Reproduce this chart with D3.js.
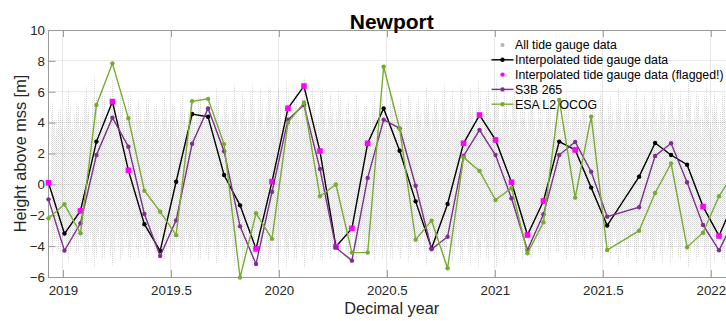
<!DOCTYPE html>
<html><head><meta charset="utf-8">
<script src="https://cdn.jsdelivr.net/npm/d3@7"></script>
<style>
html,body{margin:0;padding:0;background:#fff;}
svg{display:block;font-family:"Liberation Sans",Arial,Helvetica,sans-serif;}
</style></head><body>
<svg id="chart" width="726" height="321"></svg>
<script>
// ---- data ----
const passYears = [2018.933, 2019.007, 2019.081, 2019.155, 2019.229, 2019.303, 2019.377, 2019.450, 2019.524, 2019.598,
  2019.672, 2019.746, 2019.820, 2019.894, 2019.968, 2020.042, 2020.116, 2020.190, 2020.264, 2020.338,
  2020.411, 2020.485, 2020.559, 2020.633, 2020.707, 2020.781, 2020.855, 2020.929, 2021.003, 2021.077,
  2021.151, 2021.225, 2021.298, 2021.372, 2021.446, 2021.520, 2021.594, 2021.668, 2021.742, 2021.816,
  2021.890, 2021.964, 2022.038, 2022.112];
const gaugeInterp = [0.10, -3.19, -1.72, 2.77, 5.36, 0.91, -2.58, -4.31, 0.17, 4.56,
  4.38, 0.61, -1.36, -4.18, 0.18, 4.93, 6.37, 2.16, -4.03, -2.85,
  2.66, 4.92, 2.18, -1.10, -4.14, -1.27, 2.66, 4.49, 2.88, 0.14,
  -3.28, -1.08, 2.77, 2.23, -0.21, -2.67, null, 0.50, 2.68, 1.90,
  1.27, -1.44, -3.34, -0.95];
const gaugeFlagged = [1,0,1,0,1,1,0,0,0,0, 0,0,0,1,1,1,1,1,1,1, 1,0,0,0,0,0,1,1,1,1, 1,1,0,1,0,0,0,0,0,0, 0,1,1,0];
const s3b265 = [-0.97, -4.29, -2.52, 1.90, 4.32, 2.44, -1.92, -4.64, -2.33, 2.63,
  4.92, 2.15, -2.72, -5.16, -0.48, 4.19, 5.14, 1.00, -4.10, -4.94,
  0.42, 4.19, 3.63, -0.09, -4.20, -3.39, 1.84, 3.52, 1.90, -0.90,
  -4.25, -1.94, 1.90, 2.75, 0.82, -2.09, null, -1.48, 1.84, 2.66,
  0.14, -2.63, -4.27, -2.20];
const esaOcog = [-2.20, -1.29, -3.17, 5.14, 7.84, 4.28, -0.41, -1.77, -3.29, 5.38,
  5.54, 2.61, -6.03, -1.87, -3.53, 4.00, 5.30, -0.77, -0.01, -4.42,
  -4.42, 7.62, 3.59, -3.58, -2.35, -5.43, 1.75, 0.87, -1.01, -0.23,
  -4.46, -2.45, 5.47, -0.86, 4.39, -4.25, null, -3.00, -0.56, 1.35,
  -4.07, -3.13, -0.77, 0.87];

// envelope of the hourly tide-gauge record (spring tides), read approximately
const springYears = [2018.945, 2018.985, 2019.026, 2019.066, 2019.107, 2019.147, 2019.187, 2019.228, 2019.268, 2019.309,
  2019.349, 2019.390, 2019.430, 2019.471, 2019.511, 2019.551, 2019.592, 2019.632, 2019.673, 2019.713,
  2019.754, 2019.794, 2019.834, 2019.875, 2019.915, 2019.956, 2019.996, 2020.037, 2020.077, 2020.118,
  2020.158, 2020.198, 2020.239, 2020.279, 2020.320, 2020.360, 2020.401, 2020.441, 2020.481, 2020.522,
  2020.562, 2020.603, 2020.643, 2020.684, 2020.724, 2020.765, 2020.805, 2020.845, 2020.886, 2020.926,
  2020.967, 2021.007, 2021.048, 2021.088, 2021.128, 2021.169, 2021.209, 2021.250, 2021.290, 2021.331,
  2021.371, 2021.412, 2021.452, 2021.492, 2021.533, 2021.573, 2021.614, 2021.654, 2021.695, 2021.735,
  2021.775, 2021.816, 2021.856, 2021.897, 2021.937, 2021.978, 2022.018, 2022.059, 2022.099];
const springHigh = [6.0, 5.2, 6.2, 5.6, 6.6, 7.2, 6.4, 7.0, 6.0, 6.3,
  5.6, 6.0, 5.4, 5.9, 5.5, 6.1, 5.6, 6.3, 5.8, 6.4,
  6.0, 6.6, 6.2, 6.8, 6.3, 6.9, 6.4, 7.0, 6.6, 7.1,
  6.5, 6.8, 6.0, 6.4, 5.6, 6.0, 5.5, 6.1, 5.8, 6.3,
  5.7, 6.2, 5.9, 6.5, 6.0, 6.7, 6.2, 6.9, 6.4, 7.0,
  6.5, 6.9, 6.3, 6.6, 5.9, 6.2, 5.6, 6.0, 5.5, 6.1,
  5.6, 6.2, 5.8, 6.3, 5.9, 6.4, 6.0, 6.5, 6.1, 6.7,
  6.3, 6.8, 6.4, 6.9, 6.4, 6.8, 6.2, 6.5, 6.0];
const springLow = [-5.0, -4.6, -5.1, -4.8, -5.3, -5.5, -5.2, -5.4, -5.0, -5.2,
  -4.8, -5.0, -4.7, -5.0, -4.8, -5.1, -4.9, -5.2, -5.0, -5.3,
  -5.1, -5.4, -5.2, -5.5, -5.2, -5.5, -5.2, -5.5, -5.3, -5.5,
  -5.1, -5.3, -4.9, -5.1, -4.7, -5.0, -4.8, -5.1, -4.9, -5.2,
  -4.9, -5.2, -5.0, -5.3, -5.1, -5.4, -5.2, -5.5, -5.3, -5.5,
  -5.3, -5.5, -5.2, -5.3, -5.0, -5.1, -4.8, -5.0, -4.7, -5.0,
  -4.8, -5.1, -4.9, -5.2, -5.0, -5.3, -5.1, -5.3, -5.1, -5.4,
  -5.2, -5.4, -5.2, -5.5, -5.2, -5.4, -5.1, -5.3, -5.0];
const neapHigh = 3.8, neapLow = -3.4;

const xTicks = [2019, 2019.5, 2020, 2020.5, 2021, 2021.5, 2022];
const xTickLabels = ["2019", "2019.5", "2020", "2020.5", "2021", "2021.5", "2022"];
const yTicks = [-6, -4, -2, 0, 2, 4, 6, 8, 10];
const legendLabels = ["All tide gauge data", "Interpolated tide gauge data",
  "Interpolated tide gauge data (flagged!)", "S3B 265", "ESA L2 OCOG"];

// ---- drawing ----
const svg = d3.select("#chart");
const L = 48.5, R = 735, T = 30, B = 277;
const x = d3.scaleLinear().domain([passYears[0], passYears[passYears.length - 1]]).range([L, R]);
const y = d3.scaleLinear().domain([-6, 10]).range([B, T]);

const cBlack = "#000000", cMag = "#ff00ff", cPurple = "#7e2f8e", cGreen = "#77ac30";
const axisCol = "#9a9a9a", textCol = "#262626";

const defs = svg.append("defs");
defs.append("clipPath").attr("id", "plotclip").append("rect")
  .attr("x", L).attr("y", T).attr("width", R - L).attr("height", B - T);
const p1 = defs.append("pattern").attr("id", "stipA").attr("width", 2).attr("height", 2)
  .attr("patternUnits", "userSpaceOnUse");
p1.append("rect").attr("x", 0).attr("y", 0).attr("width", 1).attr("height", 1).attr("fill", "#d4d4d4");
const p2 = defs.append("pattern").attr("id", "stipB").attr("width", 2).attr("height", 2)
  .attr("patternUnits", "userSpaceOnUse");
p2.append("rect").attr("x", 1).attr("y", 1).attr("width", 1).attr("height", 1).attr("fill", "#e2e2e2");

// tide gauge cloud
const env = [];
springYears.forEach((t, k) => {
  if (k > 0) env.push({t: (springYears[k - 1] + t) / 2, hi: neapHigh, lo: neapLow});
  env.push({t, hi: springHigh[k], lo: springLow[k]});
});
const cloud = svg.append("g").attr("clip-path", "url(#plotclip)");
cloud.append("path").datum(env)
  .attr("d", d3.area().x(d => x(d.t)).y0(d => y(d.lo)).y1(d => y(d.hi)))
  .attr("fill", "url(#stipA)");
cloud.append("path").datum(env)
  .attr("d", d3.area().x(d => x(d.t)).y0(d => y(d.lo * 0.8)).y1(d => y(d.hi * 0.8)))
  .attr("fill", "url(#stipB)");

// grid
const grid = svg.append("g").attr("stroke", "#262626").attr("stroke-opacity", 0.1).attr("shape-rendering", "crispEdges");
grid.selectAll("line.gx").data(xTicks).join("line")
  .attr("x1", d => x(d)).attr("x2", d => x(d)).attr("y1", T).attr("y2", B);
grid.selectAll("line.gy").data(yTicks).join("line")
  .attr("x1", L).attr("x2", R).attr("y1", d => y(d)).attr("y2", d => y(d));

// axes
const gB = svg.append("g").attr("transform", `translate(0,${B})`)
  .call(d3.axisBottom(x).tickValues(xTicks).tickFormat((d, i) => xTickLabels[i]).tickSizeInner(-7).tickSizeOuter(0).tickPadding(8.5));
const gT = svg.append("g").attr("transform", `translate(0,${T})`)
  .call(d3.axisTop(x).tickValues(xTicks).tickFormat("").tickSizeInner(-7).tickSizeOuter(0));
const gL = svg.append("g").attr("transform", `translate(${L},0)`)
  .call(d3.axisLeft(y).tickValues(yTicks).tickSizeInner(-7).tickSizeOuter(0).tickPadding(3.5));
[gB, gT, gL].forEach(g => {
  g.select(".domain").remove();
  g.selectAll(".tick line").attr("stroke", axisCol);
  g.selectAll(".tick text").attr("fill", textCol).style("font-size", "13.3px")
    .style("font-family", "'Liberation Sans', Arial, sans-serif");
});
svg.append("rect").attr("x", L).attr("y", T).attr("width", R - L).attr("height", B - T)
  .attr("fill", "none").attr("stroke", axisCol).attr("shape-rendering", "crispEdges");

// series
const pts = vals => passYears.map((t, i) => ({t, v: vals[i], f: gaugeFlagged[i]})).filter(d => d.v !== null);
const line = d3.line().x(d => x(d.t)).y(d => y(d.v));
function series(vals, col) {
  const data = pts(vals);
  const g = svg.append("g");
  g.append("path").datum(data).attr("d", line).attr("fill", "none").attr("stroke", col).attr("stroke-width", 1.4);
  g.selectAll("circle").data(data).join("circle")
    .attr("cx", d => x(d.t)).attr("cy", d => y(d.v)).attr("r", 2.2).attr("fill", col);
  return data;
}
const blackData = series(gaugeInterp, cBlack);
const sq = 5.6;
svg.append("g").selectAll("rect").data(blackData.filter(d => d.f)).join("rect")
  .attr("x", d => x(d.t) - sq / 2).attr("y", d => y(d.v) - sq / 2)
  .attr("width", sq).attr("height", sq).attr("fill", cMag);
series(s3b265, cPurple);
series(esaOcog, cGreen);

// title and labels
svg.append("text").attr("x", (L + R) / 2).attr("y", 29).attr("text-anchor", "middle")
  .style("font-size", "21px").style("font-weight", "bold").attr("fill", "#000").text("Newport");
svg.append("text").attr("x", (L + R) / 2).attr("y", 314).attr("text-anchor", "middle")
  .style("font-size", "16.3px").attr("fill", textCol).text("Decimal year");
svg.append("text").attr("transform", `translate(25.5,${(T + B) / 2}) rotate(-90)`).attr("text-anchor", "middle")
  .style("font-size", "16.3px").attr("fill", textCol).text("Height above mss [m]");

// legend
const lg = svg.append("g");
const lx0 = 491.5, lx1 = 513.5, lxm = 502.5, ly0 = 45, ldy = 14.8;
const legendStyle = [
  {line: null, dot: "#b3b3b3", r: 2},
  {line: cBlack, dot: cBlack, r: 2.2},
  {line: null, dot: cMag, r: 2.2},
  {line: cPurple, dot: cPurple, r: 2.2},
  {line: cGreen, dot: cGreen, r: 2.2}
];
legendLabels.forEach((lab, i) => {
  const yy = ly0 + i * ldy, st = legendStyle[i];
  if (st.line) lg.append("line").attr("x1", lx0).attr("x2", lx1).attr("y1", yy).attr("y2", yy)
    .attr("stroke", st.line).attr("stroke-width", 1.4);
  lg.append("circle").attr("cx", lxm).attr("cy", yy).attr("r", st.r).attr("fill", st.dot);
  lg.append("text").attr("x", 515).attr("y", yy).attr("dy", "0.35em")
    .style("font-size", "12.3px").attr("fill", "#000").text(lab);
});
</script>
</body></html>
